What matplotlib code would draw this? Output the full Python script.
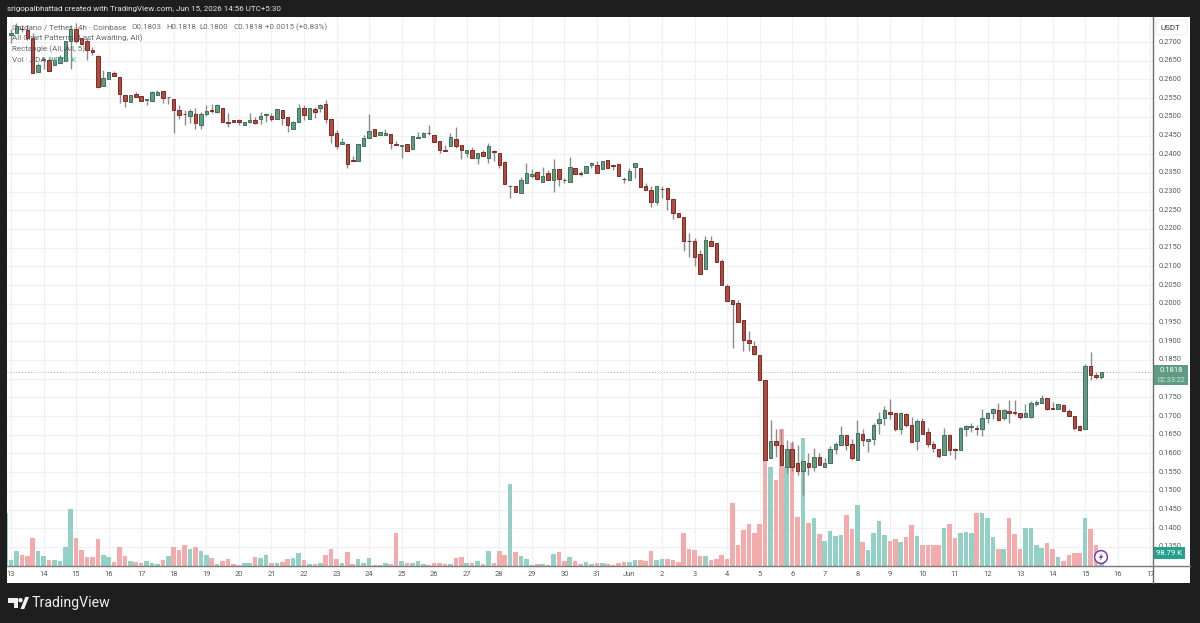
import matplotlib
matplotlib.use("Agg")
import matplotlib.pyplot as plt
from matplotlib.patches import Rectangle, Circle, Polygon, FancyBboxPatch

plt.rcParams["font.family"] = ["Roboto", "DejaVu Sans"]

# 4h ADA/USDT candles, oldest first
opens = [
 .2718,.2723,.2736,.2732,.2710,.2619,.2653,.2653,.2638,.2643,
 .2648,.2703,.2734,.2710,.2702,.2678,.2663,.2582,.2602,.2616,
 .2607,.2557,.2540,.2562,.2555,.2546,.2543,.2557,.2569,.2552,
 .2548,.2517,.2508,.2502,.2507,.2479,.2508,.2517,.2513,.2524,
 .2487,.2492,.2491,.2477,.2485,.2492,.2495,.2504,.2503,.2495,
 .2518,.2500,.2467,.2486,.2524,.2495,.2522,.2523,.2534,.2494,
 .2456,.2426,.2428,.2385,.2381,.2423,.2443,.2467,.2452,.2452,
 .2453,.2428,.2423,.2428,.2413,.2444,.2446,.2458,.2452,.2435,
 .2410,.2421,.2440,.2425,.2404,.2410,.2390,.2407,.2390,.2408,
 .2403,.2379,.2314,.2315,.2295,.2322,.2343,.2352,.2327,.2350,
 .2331,.2360,.2332,.2327,.2363,.2351,.2351,.2370,.2372,.2361,
 .2385,.2371,.2374,.2335,.2331,.2365,.2363,.2314,.2305,.2273,
 .2306,.2309,.2279,.2242,.2231,.2169,.2168,.2133,.2093,.2169,
 .2162,.2115,.2048,.2010,.2002,.1956,.1904,.1887,.1864,.1797,
 .1587,.1633,.1622,.1563,.1613,.1575,.1552,.1575,.1564,.1590,
 .1563,.1574,.1611,.1623,.1650,.1624,.1583,.1653,.1632,.1638,
 .1680,.1694,.1712,.1708,.1666,.1705,.1675,.1633,.1686,.1657,
 .1624,.1611,.1595,.1648,.1611,.1609,.1666,.1671,.1667,.1666,
 .1695,.1707,.1717,.1694,.1714,.1711,.1707,.1698,.1698,.1733,
 .1735,.1747,.1721,.1719,.1730,.1714,.1699,.1672,.1665,.1833,
 .1809,.1803]
highs = [
 .2736,.2750,.2745,.2745,.2723,.2643,.2660,.2660,.2660,.2665,
 .2703,.2745,.2750,.2712,.2710,.2687,.2665,.2625,.2621,.2622,
 .2607,.2557,.2557,.2565,.2555,.2547,.2568,.2572,.2570,.2553,
 .2548,.2531,.2517,.2521,.2523,.2514,.2532,.2533,.2534,.2524,
 .2510,.2492,.2493,.2485,.2510,.2500,.2514,.2511,.2510,.2522,
 .2518,.2500,.2490,.2533,.2532,.2523,.2527,.2534,.2545,.2494,
 .2465,.2443,.2428,.2394,.2428,.2452,.2508,.2467,.2459,.2467,
 .2453,.2434,.2424,.2428,.2449,.2460,.2460,.2477,.2452,.2435,
 .2425,.2456,.2474,.2425,.2410,.2418,.2403,.2411,.2431,.2411,
 .2403,.2383,.2318,.2315,.2340,.2376,.2360,.2356,.2367,.2358,
 .2387,.2360,.2336,.2392,.2363,.2356,.2369,.2380,.2383,.2382,
 .2385,.2371,.2374,.2338,.2363,.2376,.2363,.2322,.2314,.2316,
 .2314,.2309,.2279,.2242,.2231,.2189,.2175,.2144,.2180,.2182,
 .2162,.2119,.2052,.2010,.2009,.1956,.1926,.1901,.1864,.1797,
 .1690,.1664,.1665,.1637,.1632,.1623,.1581,.1601,.1615,.1601,
 .1588,.1619,.1630,.1672,.1650,.1639,.1688,.1664,.1639,.1681,
 .1711,.1728,.1746,.1708,.1711,.1709,.1698,.1692,.1695,.1668,
 .1632,.1611,.1668,.1651,.1615,.1671,.1677,.1680,.1677,.1719,
 .1710,.1722,.1735,.1719,.1742,.1743,.1707,.1733,.1739,.1742,
 .1756,.1747,.1737,.1733,.1731,.1718,.1699,.1677,.1838,.1870,
 .1817,.1818]
lows = [
 .2696,.2723,.2727,.2705,.2618,.2619,.2629,.2623,.2638,.2643,
 .2648,.2629,.2696,.2694,.2653,.2665,.2578,.2582,.2602,.2610,
 .2538,.2527,.2540,.2554,.2542,.2531,.2543,.2557,.2538,.2533,
 .2458,.2494,.2477,.2483,.2467,.2467,.2502,.2510,.2510,.2487,
 .2474,.2487,.2478,.2477,.2483,.2481,.2480,.2485,.2490,.2495,
 .2478,.2460,.2467,.2486,.2492,.2495,.2496,.2514,.2483,.2429,
 .2414,.2426,.2362,.2381,.2381,.2423,.2443,.2450,.2452,.2452,
 .2413,.2424,.2389,.2409,.2413,.2444,.2446,.2452,.2433,.2404,
 .2408,.2421,.2416,.2387,.2393,.2391,.2374,.2396,.2376,.2383,
 .2363,.2319,.2284,.2300,.2295,.2322,.2336,.2331,.2327,.2330,
 .2300,.2314,.2322,.2327,.2347,.2343,.2351,.2363,.2351,.2361,
 .2364,.2358,.2341,.2324,.2331,.2336,.2311,.2305,.2258,.2265,
 .2282,.2251,.2226,.2233,.2142,.2125,.2100,.2081,.2093,.2154,
 .2113,.2049,.2008,.1882,.1952,.1873,.1873,.1862,.1797,.1583,
 .1587,.1590,.1570,.1548,.1552,.1542,.1490,.1541,.1552,.1568,
 .1563,.1574,.1599,.1622,.1610,.1583,.1583,.1619,.1603,.1623,
 .1652,.1677,.1692,.1661,.1653,.1671,.1631,.1610,.1653,.1617,
 .1603,.1588,.1595,.1597,.1584,.1609,.1646,.1658,.1648,.1646,
 .1682,.1692,.1686,.1690,.1682,.1703,.1692,.1698,.1695,.1726,
 .1735,.1717,.1718,.1719,.1713,.1699,.1662,.1661,.1665,.1797,
 .1799,.1800]
closes = [
 .2725,.2743,.2735,.2710,.2618,.2638,.2654,.2623,.2653,.2660,
 .2703,.2736,.2703,.2694,.2678,.2674,.2580,.2604,.2619,.2610,
 .2560,.2542,.2557,.2554,.2542,.2547,.2567,.2566,.2551,.2553,
 .2518,.2505,.2507,.2516,.2483,.2507,.2515,.2516,.2531,.2487,
 .2483,.2487,.2485,.2485,.2492,.2483,.2501,.2508,.2493,.2522,
 .2496,.2477,.2485,.2523,.2506,.2523,.2514,.2532,.2493,.2452,
 .2423,.2432,.2375,.2381,.2428,.2442,.2461,.2450,.2459,.2457,
 .2431,.2424,.2424,.2409,.2449,.2447,.2456,.2457,.2433,.2412,
 .2408,.2447,.2423,.2410,.2410,.2391,.2403,.2396,.2423,.2406,
 .2370,.2319,.2315,.2300,.2330,.2349,.2347,.2334,.2341,.2330,
 .2360,.2334,.2331,.2365,.2347,.2348,.2369,.2377,.2351,.2382,
 .2364,.2368,.2341,.2334,.2355,.2376,.2311,.2305,.2272,.2316,
 .2307,.2279,.2243,.2233,.2169,.2168,.2126,.2081,.2171,.2154,
 .2113,.2049,.2008,.2000,.1952,.1902,.1894,.1866,.1797,.1583,
 .1633,.1622,.1570,.1612,.1563,.1552,.1579,.1564,.1590,.1568,
 .1575,.1612,.1624,.1650,.1622,.1588,.1655,.1636,.1639,.1677,
 .1692,.1717,.1706,.1664,.1707,.1675,.1631,.1687,.1653,.1625,
 .1614,.1593,.1648,.1609,.1609,.1667,.1672,.1672,.1664,.1695,
 .1707,.1719,.1690,.1715,.1707,.1709,.1697,.1707,.1735,.1737,
 .1747,.1720,.1718,.1733,.1713,.1699,.1669,.1663,.1833,.1809,
 .1804,.1818]

# volume in thousands of ADA, same candles
volume = [
  42,110, 82, 75,212,115, 72, 45, 42, 35,
 142,425,212,120, 70, 68,202, 80, 70, 30,
 140, 72, 35, 30, 25, 35, 25, 15, 42, 72,
 140,120,155,125,140,115, 80, 60, 18, 35,
  50, 15, 10, 20, 20, 65, 60, 80, 25, 25,
  30, 50, 58, 95, 42, 18, 15, 20, 85,125,
  50, 25,102, 15, 50, 20, 60,  8,  5, 20,
  15,245, 35, 20, 20, 35, 15,  8, 20, 25,
  15, 15, 60, 70, 20, 20, 35, 15,115, 25,
 110, 85,612,102, 72, 55,  8, 15, 15,  5,
  88,102, 35, 65, 35, 15, 30, 15, 20, 20,
  15, 10, 25, 30, 30, 42, 42, 38,115, 45,
  50, 50, 45, 30,250,130,118, 72, 72, 45,
  55, 85, 55,470,155,270,312,250,312,792,
 742,642,1025,742,925,370,962,325,362,238,
 185,265,225,230,382,280,460,180,118,245,
 338,230,185,200,180,220,310,225,155,155,
 155,160,288,312,212,245,258,250,400,400,
 362,220,125,130,358,242,125,282,288,155,
 138,175,125, 70, 38, 85,100, 95,358,280,
 155, 98.79]

# bar just left of the first full candle, partly cut off by the pane edge
earlier_volume = 400

day_labels = ["13","14","15","16","17","18","19","20","21","22","23","24","25",
              "26","27","28","29","30","31","Jun","2","3","4","5","6","7","8",
              "9","10","11","12","13","14","15","16","17"]
bars_per_day = 6
price_ticks = [.27 - k * .005 for k in range(28)]
last_price = .1818
# this scale label sits under the last-price tag
covered_tick = "0.1800"

WIDTH, HEIGHT = 1200, 623
fig = plt.figure(figsize=(WIDTH / 100, HEIGHT / 100), dpi=100, facecolor="#1e1e1e")


def frame(left, top, right, bottom):
    return [left / WIDTH, 1 - bottom / HEIGHT, (right - left) / WIDTH, (bottom - top) / HEIGHT]


def pixel_layer(order):
    ax = fig.add_axes([0, 0, 1, 1], zorder=order)
    ax.set_xlim(0, WIDTH)
    ax.set_ylim(HEIGHT, 0)
    ax.axis("off")
    ax.patch.set_alpha(0)
    return ax


backdrop = pixel_layer(0)
backdrop.add_patch(Rectangle((7, 17), 1183, 566, fc="white", ec="none"))

px_per_bar = 5.425
x_first = 11
xlim = ((7 - x_first) / px_per_bar, (1153 - x_first) / px_per_bar)
ylim = (.27 - (566 - 42) / 3740, .27 + (42 - 17) / 3740)
pane = frame(7, 17, 1153, 566)

# grid
GRID = "#f0f1f5"
price_ax = fig.add_axes(pane, zorder=1)
price_ax.patch.set_alpha(0)
price_ax.set_xlim(*xlim)
price_ax.set_ylim(*ylim)
for p in price_ticks:
    price_ax.axhline(p, color=GRID, lw=.9, zorder=0)
day_x = [k * bars_per_day for k in range(len(day_labels))]
for x in day_x:
    price_ax.axvline(x, color=GRID, lw=.9, zorder=0)
price_ax.axis("off")

# volume histogram
vol_ax = fig.add_axes(pane, zorder=2)
vol_ax.patch.set_alpha(0)
vol_ax.set_xlim(*xlim)
vol_ax.set_ylim(0, 549 / 0.1333)
up = [c >= o for o, c in zip(opens, closes)]
vol_colors = ["#93d1c7" if u else "#f4abab" for u in up]
vol_ax.bar(range(len(volume)), volume, width=0.84, color=vol_colors)
vol_ax.bar([-1], [earlier_volume], width=0.84, color="#93d1c7")
vol_ax.axis("off")

# candles above the histogram
candle_ax = fig.add_axes(pane, zorder=3)
candle_ax.patch.set_alpha(0)
candle_ax.set_xlim(*xlim)
candle_ax.set_ylim(*ylim)
candle_ax.axis("off")
idx = list(range(len(opens)))
candle_ax.vlines(idx, lows, highs, color="#8c8c8c", lw=1.0, zorder=2)
for i, o, c, u in zip(idx, opens, closes, up):
    bottom = min(o, c)
    height = max(abs(c - o), .00006)
    fc = "#5f9c82" if u else "#b24a40"
    ec = "#41705c" if u else "#7c2c26"
    candle_ax.add_patch(Rectangle((i - .32, bottom), .64, height, fc=fc, ec=ec, lw=.7, zorder=3))
candle_ax.axhline(last_price, color="#a4a8b0", lw=.7, ls=(0, (1, 2)), zorder=1)

# text and scale furniture
chrome = pixel_layer(5)
chrome.plot([1153, 1153], [17, 583], color="#6b6b6b", lw=1)
chrome.plot([7, 1190], [566, 566], color="#7a7a7a", lw=1)

TICK_COLOR = "#555a60"
for p in price_ticks:
    label = f"{p:.4f}"
    if label == covered_tick:
        continue
    y = 42 + (.27 - p) * 3740
    chrome.text(1159, y, label, fontsize=5.4, color=TICK_COLOR, va="center", ha="left")

for x, lab in zip(day_x, day_labels):
    px = x_first + x * px_per_bar
    chrome.text(px, 575, lab, fontsize=5.4, color=TICK_COLOR, ha="center", va="center")

# USDT unit box
chrome.add_patch(FancyBboxPatch((1156, 20), 31, 15, boxstyle="round,pad=0,rounding_size=2",
                                fc="white", ec="#eeeeee", lw=.8, zorder=3))
chrome.text(1170.5, 28, "USDT", fontsize=5.8, color="#333333", ha="center", va="center", zorder=4)

# last price tag
chrome.add_patch(Rectangle((1154, 365), 34, 20, fc="#5f9c82", ec="none", zorder=3))
chrome.text(1171, 370.5, "0.1818", fontsize=5.6, color="white", ha="center", va="center", zorder=4)
chrome.text(1171, 380, "02:33:22", fontsize=5.2, color="#d5e8df", ha="center", va="center", zorder=4)

# current volume tag
chrome.add_patch(Rectangle((1154, 547), 31, 12, fc="#26a08c", ec="none", zorder=3))
chrome.text(1169.5, 553, "98.79 K", fontsize=5.6, color="white", ha="center", va="center", zorder=4)

# dividend marker on the last candle
chrome.add_patch(Circle((1101, 557), 6.4, fc="white", ec="#7a3fa6", lw=1.1))
chrome.add_patch(Polygon([(1102.5, 552.8), (1098.5, 557.8), (1100.8, 557.8), (1099.4, 561.2),
                          (1103.4, 556.2), (1101.2, 556.2)], fc="#7a3fa6", ec="none"))

# overlay legend
legend_color = "#4a4e55"
legend_size = 5.8
chrome.text(12, 27, "Cardano / Tether · 4h · Coinbase", fontsize=legend_size, color=legend_color,
            alpha=.85, va="center")
ohlc_items = [(132, "O0.1803"), (166, "H0.1818"), (199, "L0.1800"), (233, "C0.1818"),
              (265, "+0.0015 (+0.83%)")]
for px, s in ohlc_items:
    chrome.text(px, 27, s, fontsize=5.65, color=legend_color, alpha=.85, va="center")
chrome.text(12, 38, "All Chart Patterns (Last Awaiting, All)", fontsize=legend_size, color=legend_color,
            alpha=.85, va="center")
chrome.text(12, 49.5, "Rectangle (All, All, 5)", fontsize=legend_size, color=legend_color, alpha=.85, va="center")
chrome.text(12, 60, "Vol · ADA", fontsize=legend_size, color=legend_color, alpha=.85, va="center")
chrome.text(49, 60, "94.29 K", fontsize=legend_size, color="#3fa796", alpha=.9, va="center")

# top caption
chrome.text(7, 9.5, "srigopalbhattad created with TradingView.com, Jun 15, 2026 14:56 UTC+5:30",
            fontsize=5.75, color="#e4e4e4", va="center")

# footer brand mark
chrome.add_patch(Polygon([(8, 598), (18, 598), (18, 608), (13.5, 608), (13.5, 602.5), (8, 602.5)],
                         fc="#f0f0f0", ec="none"))
chrome.add_patch(Circle((20.5, 600.2), 2.2, fc="#f0f0f0", ec="none"))
chrome.add_patch(Polygon([(22, 608), (26, 598), (27.5, 598), (23.5, 608)],
                         fc="#f0f0f0", ec="#f0f0f0", lw=1.5))
chrome.text(32, 603.5, "TradingView", fontsize=10.2, color="#f0f0f0", va="center")

fig.savefig("out.png", dpi=100, facecolor=fig.get_facecolor())
